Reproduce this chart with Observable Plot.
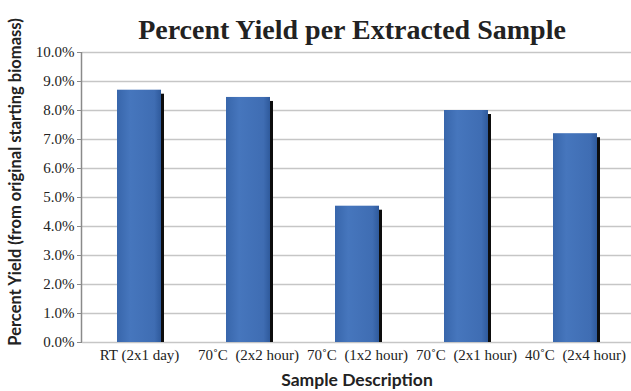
<!DOCTYPE html>
<html>
<head>
<meta charset="utf-8">
<script src="https://cdn.jsdelivr.net/npm/d3@7"></script>
<script src="https://cdn.jsdelivr.net/npm/@observablehq/plot@0.6"></script>
<style>
  html, body { margin: 0; padding: 0; background: #fff; }
  #chart { position: relative; width: 631px; height: 391px; overflow: hidden; }
</style>
</head>
<body>
<div id="chart"></div>
<script>
// Sample descriptions and their percent yields
const samples = ["RT (2x1 day)", "70˚C\u00a0 (2x2 hour)", "70˚C\u00a0 (1x2 hour)", "70˚C\u00a0 (2x1 hour)", "40˚C\u00a0 (2x4 hour)"];
const yields = [8.7, 8.45, 4.7, 8.0, 7.2];
const yTicks = [0, 1, 2, 3, 4, 5, 6, 7, 8, 9, 10];

const data = samples.map((s, i) => ({sample: s, value: yields[i]}));

const serif = "'Liberation Serif', 'DejaVu Serif', serif";
const sans = "Lato, 'Open Sans', sans-serif";
const marginLeft = 82;

const plot = Plot.plot({
  width: 631,
  height: 391,
  marginTop: 52,
  marginBottom: 49,
  marginLeft,
  marginRight: 0,
  style: {fontFamily: serif, fontSize: "15px", color: "#222", background: "#fff"},
  x: {domain: samples, paddingInner: 0.6, paddingOuter: 0.3},
  y: {domain: [0, 10]},
  marks: [
    Plot.gridY(yTicks, {stroke: "#c6c6c6", strokeOpacity: 1, strokeWidth: 1.5}),
    // drop shadow on the right side of each bar
    Plot.barY(data, {x: "sample", y: "value", fill: "#0d0d0d", dx: 3, insetTop: 4}),
    Plot.barY(data, {x: "sample", y: "value", fill: "url(#barGrad)"}),
    // bevelled top edge
    Plot.tickY(data, {x: "sample", y: "value", dy: 3, stroke: "url(#bevelGrad)", strokeWidth: 6}),
    Plot.axisY(yTicks, {
      tickSize: 5, tickPadding: 3, stroke: "#8a8a8a",
      tickFormat: d => d.toFixed(1) + "%",
      label: null
    }),
    Plot.axisX({tickSize: 0, tickPadding: 7, label: null})
  ]
});

const svg = d3.select(plot);
const y = plot.scale("y");

// gradients for the bar body and bevel
const defs = svg.insert("defs", ":first-child");
const g1 = defs.append("linearGradient").attr("id", "barGrad").attr("x1", 0).attr("x2", 1).attr("y1", 0).attr("y2", 0);
g1.append("stop").attr("offset", "0%").attr("stop-color", "#3866ab");
g1.append("stop").attr("offset", "30%").attr("stop-color", "#4676bd");
g1.append("stop").attr("offset", "85%").attr("stop-color", "#3f6db3");
g1.append("stop").attr("offset", "100%").attr("stop-color", "#2f5a9c");
const g2 = defs.append("linearGradient").attr("id", "bevelGrad").attr("x1", 0).attr("x2", 0).attr("y1", 0).attr("y2", 1);
g2.append("stop").attr("offset", "0%").attr("stop-color", "#82aadf");
g2.append("stop").attr("offset", "100%").attr("stop-color", "#5584c8");

// vertical axis line along the left edge of the plot area
svg.append("line")
  .attr("x1", marginLeft - 0.5).attr("x2", marginLeft - 0.5)
  .attr("y1", y.apply(10)).attr("y2", y.apply(0))
  .attr("stroke", "#8a8a8a").attr("stroke-width", 1.5);

// y-axis title
svg.append("text")
  .attr("transform", "translate(17,182) rotate(-90)")
  .attr("text-anchor", "middle").attr("dominant-baseline", "middle")
  .style("font-family", sans).style("font-weight", "bold").style("font-size", "16.5px").attr("fill", "#222")
  .text("Percent Yield (from original starting biomass)");

// x-axis title
svg.append("text")
  .attr("x", 357).attr("y", 386)
  .attr("text-anchor", "middle")
  .style("font-family", sans).style("font-weight", "bold").style("font-size", "17.5px").attr("fill", "#222")
  .text("Sample Description");

// chart title
svg.append("text")
  .attr("x", 352).attr("y", 39)
  .attr("text-anchor", "middle")
  .style("font-family", serif).style("font-weight", "bold").style("font-size", "28px").attr("fill", "#222")
  .text("Percent Yield per Extracted Sample");

document.getElementById("chart").appendChild(plot);
</script>
</body>
</html>
